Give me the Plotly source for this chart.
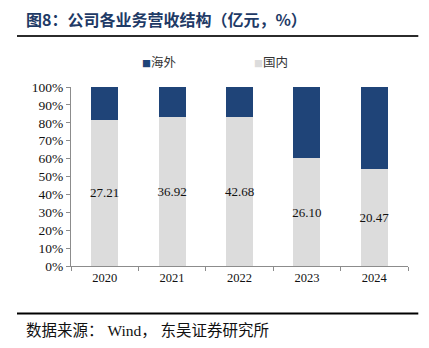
import plotly.graph_objects as go

# Revenue by region (亿元); bars are normalised to percent shares
years = ["2020", "2021", "2022", "2023", "2024"]
domestic = [27.21, 36.92, 42.68, 26.10, 20.47]
overseas = [6.09, 7.45, 8.43, 17.18, 17.23]
domestic_labels = ["27.21", "36.92", "42.68", "26.10", "20.47"]
y_ticks = [0, 10, 20, 30, 40, 50, 60, 70, 80, 90, 100]
y_tick_text = [f"{v}%" for v in y_ticks]

BLUE = "#1F4478"
GREY = "#DCDCDC"
SERIF = "Liberation Serif, Noto Sans CJK SC"
CJK = "Noto Sans CJK SC"

W, H = 429, 348
L, R, T, B = 70.7, 21.3, 87.3, 82
pw, ph = W - L - R, H - T - B


def px(x):
    return (x - L) / pw


def py(y):
    return (H - B - y) / ph


fig = go.Figure()
fig.add_trace(go.Bar(
    x=years, y=domestic, name="国内", marker_color=GREY, marker_line_width=0,
    text=domestic_labels, textposition="inside", insidetextanchor="middle",
    textangle=0, constraintext="none",
    insidetextfont=dict(family=SERIF, size=13, color="#111111"),
    showlegend=False,
))
fig.add_trace(go.Bar(
    x=years, y=overseas, name="海外", marker_color=BLUE, marker_line_width=0,
    showlegend=False,
))

fig.update_layout(
    width=W, height=H,
    margin=dict(l=L, r=R, t=T, b=B),
    paper_bgcolor="white", plot_bgcolor="white",
    barmode="stack", barnorm="percent", bargap=0.6,
    title=dict(
        text="<b>图8：公司各业务营收结构（亿元，%）</b>",
        x=26 / W, xanchor="left", xref="container",
        y=1 - 20 / H, yanchor="middle", yref="container",
        font=dict(family=CJK, size=16, color="#1E3A66"),
    ),
    xaxis=dict(
        type="category", showline=True, linecolor="#8C8C8C", linewidth=1,
        ticks="outside", tickson="boundaries", ticklen=4, tickcolor="#8C8C8C",
        tickfont=dict(family=SERIF, size=12.5, color="#111111"),
        showgrid=False, zeroline=False,
    ),
    yaxis=dict(
        range=[0, 100], tickmode="array", tickvals=y_ticks, ticktext=y_tick_text,
        showline=True, linecolor="#8C8C8C", linewidth=1,
        ticks="outside", ticklen=4, tickcolor="#8C8C8C",
        tickfont=dict(family=SERIF, size=13.5, color="#111111"),
        showgrid=False, zeroline=False,
    ),
    shapes=[
        dict(type="line", xref="paper", yref="paper",
             x0=px(16.7), x1=px(418), y0=py(36.5), y1=py(36.5),
             line=dict(color="#2B2B2B", width=2)),
        dict(type="line", xref="paper", yref="paper",
             x0=px(16.7), x1=px(418), y0=py(313.5), y1=py(313.5),
             line=dict(color="#000000", width=2)),
    ],
    annotations=[
        dict(text=f"<span style='color:{BLUE};font-size:9px'>■</span>海外",
             xref="paper", yref="paper", x=px(140), y=py(62),
             xanchor="left", yanchor="middle", showarrow=False,
             font=dict(family=CJK, size=12.5, color="#333333")),
        dict(text=f"<span style='color:{GREY};font-size:9px'>■</span>国内",
             xref="paper", yref="paper", x=px(252), y=py(62),
             xanchor="left", yanchor="middle", showarrow=False,
             font=dict(family=CJK, size=12.5, color="#333333")),
        dict(text="数据来源： Wind， 东吴证券研究所",
             xref="paper", yref="paper", x=px(24), y=py(330),
             xanchor="left", yanchor="middle", showarrow=False,
             font=dict(family=SERIF, size=15.5, color="#111111")),
    ],
)

fig.write_html("out.html")
